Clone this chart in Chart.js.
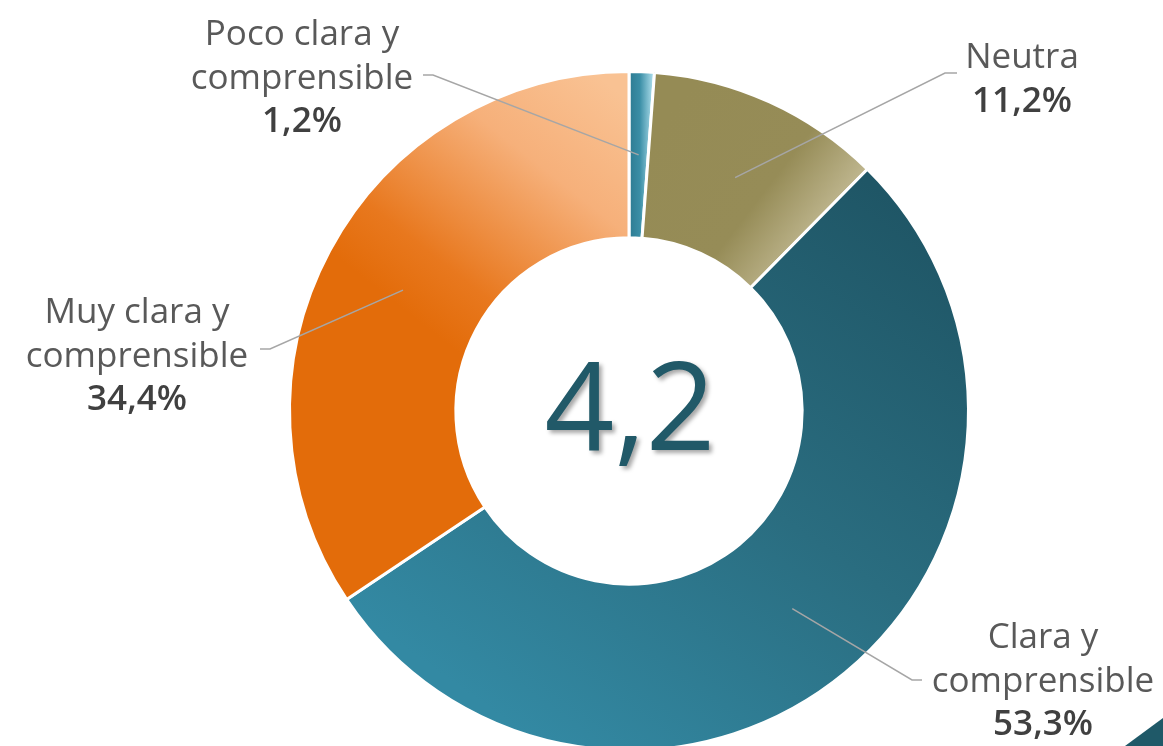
<!DOCTYPE html>
<html>
<head>
<meta charset="utf-8">
<script src="https://cdn.jsdelivr.net/npm/chart.js@4.4.1/dist/chart.umd.min.js"></script>
<style>
    html, body { margin: 0; padding: 0; background: #fff; overflow: hidden; }
    #wrap { position: relative; width: 1163px; height: 760px; }
    #corner {
        position: fixed; right: 0; bottom: 0; width: 38px; height: 28px;
        background: #1f5968; clip-path: polygon(100% 0, 100% 100%, 0 100%);
    }
</style>
</head>
<body>
<div id="wrap"><canvas id="chart" width="1163" height="760"></canvas></div>
<div id="corner"></div>
<script>
var categories = ['Poco clara y comprensible', 'Neutra', 'Clara y comprensible', 'Muy clara y comprensible'];
var values = [1.2, 11.2, 53.3, 34.4];
var labelLines = [['Poco clara y', 'comprensible'], ['Neutra'], ['Clara y', 'comprensible'], ['Muy clara y', 'comprensible']];
var centerValue = '4,2';

// label placement: text centre x, first baseline, elbow point, stub end
var labelPos = [
    { cx: 302, y: 45, ex: 433, ey: 75, sx: 423 },
    { cx: 1022, y: 68, ex: 945, ey: 73, sx: 957 },
    { cx: 1043, y: 648, ex: 912, ey: 680, sx: 922 },
    { cx: 137, y: 323, ex: 270, ey: 349, sx: 260 }
];

// gradient stops per slice: [x0, y0, x1, y1] relative to centre/radius, colours
var gradients = [
    { p: [0.0, 0, 0.07, 0], stops: [[0, '#2c7b92'], [0.45, '#3a8ea6'], [1, '#a9dbe9']] },
    { p: [0.1, -0.85, 0.62, -0.45], stops: [[0, '#958b55'], [0.55, '#968c57'], [1, '#d2caa9']] },
    { p: [0.8, -0.6, -0.3, 0.95], stops: [[0, '#1f5666'], [0.5, '#2a6d80'], [1, '#3389a3']] },
    { p: [-0.05, -0.95, -0.6, -0.25], stops: [[0, '#f9c293'], [0.35, '#f6b07a'], [0.8, '#e8781e'], [1, '#e36c0a']] }
];

function sliceColor(ctx) {
    var chart = ctx.chart;
    var area = chart.chartArea;
    if (!area) return '#ccc';
    var cx = (area.left + area.right) / 2;
    var cy = (area.top + area.bottom) / 2;
    var r = Math.min(area.right - area.left, area.bottom - area.top) / 2;
    var g = gradients[ctx.dataIndex];
    var grad = chart.ctx.createLinearGradient(cx + g.p[0] * r, cy + g.p[1] * r, cx + g.p[2] * r, cy + g.p[3] * r);
    for (var i = 0; i < g.stops.length; i++) grad.addColorStop(g.stops[i][0], g.stops[i][1]);
    return grad;
}

var labelPlugin = {
    id: 'labelPlugin',
    afterDraw: function(chart) {
        var ctx = chart.ctx;
        var meta = chart.getDatasetMeta(0);
        ctx.save();
        for (var i = 0; i < meta.data.length; i++) {
            var arc = meta.data[i];
            var p = arc.getProps(['x', 'y', 'startAngle', 'endAngle', 'innerRadius', 'outerRadius'], true);
            var mid = (p.startAngle + p.endAngle) / 2;
            var r = (p.innerRadius + p.outerRadius) / 2;
            var px = p.x + Math.cos(mid) * r;
            var py = p.y + Math.sin(mid) * r;
            var lp = labelPos[i];
            ctx.strokeStyle = '#a6a6a6';
            ctx.lineWidth = 1.5;
            ctx.beginPath();
            ctx.moveTo(px, py);
            ctx.lineTo(lp.ex, lp.ey);
            ctx.lineTo(lp.sx, lp.ey);
            ctx.stroke();

            ctx.textAlign = 'center';
            ctx.textBaseline = 'alphabetic';
            var lines = labelLines[i];
            var y = lp.y;
            ctx.fillStyle = '#595959';
            ctx.font = '35px "Open Sans"';
            for (var j = 0; j < lines.length; j++) {
                ctx.fillText(lines[j], lp.cx, y);
                y += 43.5;
            }
            ctx.fillStyle = '#404040';
            ctx.font = '600 35px "Open Sans"';
            ctx.fillText(values[i].toFixed(1).replace('.', ',') + '%', lp.cx, y);
        }

        // centre value
        var c = meta.data[0];
        ctx.font = '122px "Open Sans"';
        ctx.textAlign = 'center';
        ctx.textBaseline = 'middle';
        ctx.shadowColor = 'rgba(0,0,0,0.35)';
        ctx.shadowBlur = 4;
        ctx.shadowOffsetX = 3;
        ctx.shadowOffsetY = 3;
        ctx.fillStyle = '#215968';
        ctx.fillText(centerValue, c.x + 1, c.y + 4);
        ctx.restore();
    }
};

new Chart(document.getElementById('chart'), {
    type: 'doughnut',
    data: {
        labels: categories,
        datasets: [{
            data: values,
            backgroundColor: sliceColor,
            borderColor: '#ffffff',
            borderWidth: 3
        }]
    },
    options: {
        responsive: false,
        animation: false,
        cutout: '51%',
        layout: { padding: { left: 287, right: 192, top: 70, bottom: 8 } },
        plugins: {
            legend: { display: false },
            tooltip: { enabled: false }
        }
    },
    plugins: [labelPlugin]
});
</script>
</body>
</html>
